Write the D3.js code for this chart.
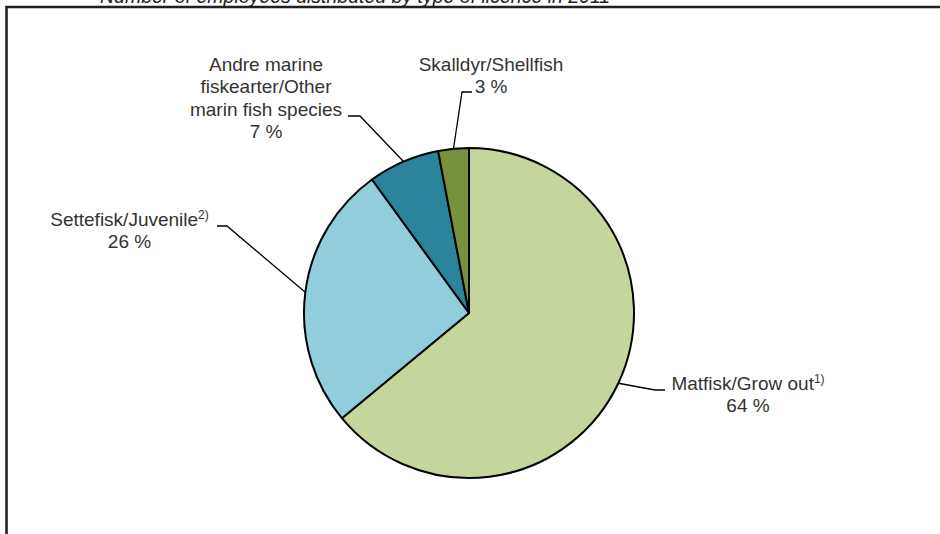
<!DOCTYPE html>
<html>
<head>
<meta charset="utf-8">
<script src="https://cdn.jsdelivr.net/npm/d3@7"></script>
<style>
  body { margin: 0; background: #fff; }
  svg { display: block; font-family: "Liberation Sans", Arial, sans-serif; }
</style>
</head>
<body>
<div id="chart"></div>
<script>
// DATA
const title = "Number of employees distributed by type of licence in 2011"
const categories = ["Matfisk/Grow out", "Settefisk/Juvenile", "Andre marine fiskearter/Other marin fish species", "Skalldyr/Shellfish"]
const shares = [64, 26, 7, 3]
const labelLines = [
  ["Matfisk/Grow out"],
  ["Settefisk/Juvenile"],
  ["Andre marine", "fiskearter/Other", "marin fish species"],
  ["Skalldyr/Shellfish"]
]
const notes = ["1)", "2)", "", ""]
const colors = ["#c4d69b", "#92cddc", "#2b849c", "#76923c"]

// where each label sits (text centre, first baseline, leader elbow and end)
const labelLayout = [
  { cx: 748, y: 390, elbow: [655, 390], end: [665, 390] },
  { cx: 129.5, y: 226, elbow: [227, 226], end: [217, 226] },
  { cx: 266, y: 71, elbow: [360, 116], end: [348, 116] },
  { cx: 491, y: 70.7, elbow: [462, 92], end: [472, 92] }
]

const width = 940, height = 534
const center = [469, 313]
const radius = 165
const lineGap = 22.4

const data = categories.map((c, i) => ({ name: c, value: shares[i], i: i }))

const svg = d3.select("#chart")
  .append("svg")
  .attr("width", width)
  .attr("height", height)

// title (cut off at the top, as in the source)
svg.append("text")
  .attr("x", 100)
  .attr("y", 2.5)
  .attr("font-size", 19.5)
  .attr("font-style", "italic")
  .attr("fill", "#231f20")
  .text(title)

// frame
svg.append("path")
  .attr("d", `M6.5,${height} L6.5,7 L${width},7`)
  .attr("fill", "none")
  .attr("stroke", "#231f20")
  .attr("stroke-width", 2.6)

// PIE
const pie = d3.pie().sort(null).value(d => d.value)
const arc = d3.arc().innerRadius(0).outerRadius(radius)
const edge = d3.arc().innerRadius(radius).outerRadius(radius)

const g = svg.append("g")
  .attr("transform", `translate(${center[0]},${center[1]})`)

const arcs = pie(data)

g.selectAll("path.slice")
  .data(arcs)
  .join("path")
    .attr("class", "slice")
    .attr("d", arc)
    .attr("fill", d => colors[d.data.i])
    .attr("stroke", "#000")
    .attr("stroke-width", 2)
    .attr("stroke-linejoin", "round")

// LEADER LINES
svg.selectAll("polyline.leader")
  .data(arcs)
  .join("polyline")
    .attr("class", "leader")
    .attr("points", d => {
      const p = edge.centroid(d)
      const l = labelLayout[d.data.i]
      return [[p[0] + center[0], p[1] + center[1]], l.elbow, l.end].map(q => q.join(",")).join(" ")
    })
    .attr("fill", "none")
    .attr("stroke", "#000")
    .attr("stroke-width", 1.3)

// LABELS
const labels = svg.selectAll("text.label")
  .data(arcs)
  .join("text")
    .attr("class", "label")
    .attr("font-size", 19)
    .attr("fill", "#333")
    .attr("text-anchor", "middle")

labels.each(function (d) {
  const t = d3.select(this)
  const l = labelLayout[d.data.i]
  const lines = labelLines[d.data.i]
  lines.forEach((line, k) => {
    const ts = t.append("tspan")
      .attr("x", l.cx)
      .attr("y", l.y + k * lineGap)
      .text(line)
    if (k === 0 && notes[d.data.i]) {
      ts.append("tspan")
        .attr("font-size", 12)
        .attr("dy", -7)
        .text(notes[d.data.i])
    }
  })
  t.append("tspan")
    .attr("x", l.cx)
    .attr("y", l.y + lines.length * lineGap)
    .text(d3.format("d")(d.data.value) + " %")
})
</script>
</body>
</html>
